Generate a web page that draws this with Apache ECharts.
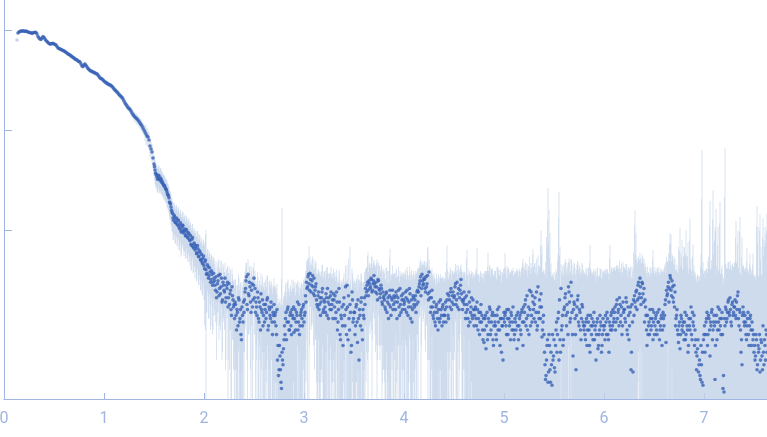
<!DOCTYPE html>
<html>
<head>
<meta charset="utf-8">
<script src="https://cdn.jsdelivr.net/npm/echarts@6/dist/echarts.min.js"></script>
<style>
html,body{margin:0;padding:0;background:#fff;}
#chart{width:767px;height:437px;}
</style>
</head>
<body>
<div id="chart"></div>
<script>
// ---- frame A: scattering vector s (nm^-1), integer-hundredth grid ----
const qValues = [
0.14,0.15,0.16,0.17,0.18,0.19,
0.20,0.21,0.22,0.23,0.24,0.25,0.26,0.27,0.28,0.29,
0.30,0.31,0.32,0.33,0.34,0.35,0.36,0.37,0.38,0.39,
0.40,0.41,0.42,0.43,0.44,0.45,0.46,0.47,0.48,0.49,
0.50,0.51,0.52,0.53,0.54,0.55,0.56,0.57,0.58,0.59,
0.60,0.61,0.62,0.63,0.64,0.65,0.66,0.67,0.68,0.69,
0.70,0.71,0.72,0.73,0.74,0.75,0.76,0.77,0.78,0.79,
0.80,0.81,0.82,0.83,0.84,0.85,0.86,0.87,0.88,0.89,
0.90,0.91,0.92,0.93,0.94,0.95,0.96,0.97,0.98,0.99,
1.00,1.01,1.02,1.03,1.04,1.05,1.06,1.07,1.08,1.09,
1.10,1.11,1.12,1.13,1.14,1.15,1.16,1.17,1.18,1.19,
1.20,1.21,1.22,1.23,1.24,1.25,1.26,1.27,1.28,1.29,
1.30,1.31,1.32,1.33,1.34,1.35,1.36,1.37,1.38,1.39,
1.40,1.41,1.42,1.43,1.44,1.45,1.46,1.47,1.48,1.49,
1.50,1.51,1.52,1.53,1.54,1.55,1.56,1.57,1.58,1.59,
1.60,1.61,1.62,1.63,1.64,1.65,1.66,1.67,1.68,1.69,
1.70,1.71,1.72,1.73,1.74,1.75,1.76,1.77,1.78,1.79,
1.80,1.81,1.82,1.83,1.84,1.85,1.86,1.87,1.88,1.89,
1.90,1.91,1.92,1.93,1.94,1.95,1.96,1.97,1.98,1.99,
2.00,2.01,2.02,2.03,2.04,2.05,2.06,2.07,2.08,2.09,
2.10,
2.11,2.12,2.13,2.14,2.15,2.16,2.17,2.18,2.19,2.20,
2.21,2.22,2.23,2.24,2.25,2.26,2.27,2.28,2.29,2.30,
2.31,2.32,2.33,2.34,2.35,2.36,2.37,2.38,2.39,2.40,
2.41,2.42,2.43,2.44,2.45,2.46,2.47,2.48,2.49,2.50,
2.51,2.52,2.53,2.54,2.55,2.56,2.57,2.58,2.59,2.60,
2.61,2.62,2.63,2.64,2.65,2.66,2.67,2.68,2.69,2.70,
2.71,2.72,2.73,2.74,2.75,2.76,2.77,2.78,2.79,2.80,
2.81,2.82,2.83,2.84,2.85,2.86,2.87,2.88,2.89,2.90,
2.91,2.92,2.93,2.94,2.95,2.96,2.97,2.98,2.99,3.00,
3.01,3.02,3.03,3.04,3.05,3.06,3.07,3.08,3.09,3.10,
3.11,3.12,3.13,3.14,3.15,3.16,3.17,3.18,3.19,3.20,
3.21,3.22,3.23,3.24,3.25,3.26,3.27,3.28,3.29,3.30,
3.31,3.32,3.33,3.34,3.35,3.36,3.37,3.38,3.39,3.40,
3.41,3.42,3.43,3.44,3.45,3.46,3.47,3.48,3.49,3.50,
3.51,3.52,3.53,3.54,3.55,3.56,3.57,3.58,3.59,3.60,
3.61,3.62,3.63,3.64,3.65,3.66,3.67,3.68,3.69,3.70,
3.71,3.72,3.73,3.74,3.75,3.76,3.77,3.78,3.79,3.80,
3.81,3.82,3.83,3.84,3.85,3.86,3.87,3.88,3.89,3.90,
3.91,3.92,3.93,3.94,3.95,3.96,3.97,3.98,3.99,4.00,
4.01,4.02,4.03,4.04,4.05,4.06,4.07,4.08,4.09,4.10,
4.11,4.12,4.13,4.14,4.15,4.16,4.17,4.18,4.19,4.20,
4.21,4.22,4.23,4.24,4.25,4.26,4.27,4.28,4.29,4.30,
4.31,4.32,4.33,4.34,4.35,4.36,4.37,4.38,4.39,4.40,
4.41,4.42,4.43,4.44,4.45,4.46,4.47,4.48,4.49,4.50,
4.51,4.52,4.53,4.54,4.55,4.56,4.57,4.58,4.59,4.60,
4.61,4.62,4.63,4.64,4.65,4.66,4.67,4.68,4.69,4.70,
4.71,4.72,4.73,4.74,4.75,4.76,4.77,4.78,4.79,4.80,
4.81,4.82,4.83,4.84,4.85,4.86,4.87,4.88,4.89,4.90,
4.91,4.92,4.93,4.94,4.95,4.96,4.97,4.98,4.99,5.00,
5.01,5.02,5.03,5.04,5.05,5.06,5.07,5.08,5.09,5.10,
5.11,5.12,5.13,5.14,5.15,5.16,5.17,5.18,5.19,5.20,
5.21,5.22,5.23,5.24,5.25,5.26,5.27,5.28,5.29,5.30,
5.31,5.32,5.33,5.34,5.35,5.36,5.37,5.38,5.39,5.40,
5.41,5.42,5.43,5.44,5.45,5.46,5.47,5.48,5.49,5.50,
5.51,5.52,5.53,5.54,5.55,5.56,5.57,5.58,5.59,5.60,
5.61,5.62,5.63,5.64,5.65,5.66,5.67,5.68,5.69,5.70,
5.71,5.72,5.73,5.74,5.75,5.76,5.77,5.78,5.79,5.80,
5.81,5.82,5.83,5.84,5.85,5.86,5.87,5.88,5.89,5.90,
5.91,5.92,5.93,5.94,5.95,5.96,5.97,5.98,5.99,6.00,
6.01,6.02,6.03,6.04,6.05,6.06,6.07,6.08,6.09,6.10,
6.11,6.12,6.13,6.14,6.15,6.16,6.17,6.18,6.19,6.20,
6.21,6.22,6.23,6.24,6.25,6.26,6.27,6.28,6.29,6.30,
6.31,6.32,6.33,6.34,6.35,6.36,6.37,6.38,6.39,6.40,
6.41,6.42,6.43,6.44,6.45,6.46,6.47,6.48,6.49,6.50,
6.51,6.52,6.53,6.54,6.55,6.56,6.57,6.58,6.59,6.60,
6.61,6.62,6.63,6.64,6.65,6.66,6.67,6.68,6.69,6.70,
6.71,6.72,6.73,6.74,6.75,6.76,6.77,6.78,6.79,6.80,
6.81,6.82,6.83,6.84,6.85,6.86,6.87,6.88,6.89,6.90,
6.91,6.92,6.93,6.94,6.95,6.96,6.97,6.98,6.99,7.00,
7.01,7.02,7.03,7.04,7.05,7.06,7.07,7.08,7.09,7.10,
7.11,7.12,7.13,7.14,7.15,7.16,7.17,7.18,7.19,7.20,
7.21,7.22,7.23,7.24,7.25,7.26,7.27,7.28,7.29,7.30,
7.31,7.32,7.33,7.34,7.35,7.36,7.37,7.38,7.39,7.40,
7.41,7.42,7.43,7.44,7.45,7.46,7.47,7.48,7.49,7.50,
7.51,7.52,7.53,7.54,7.55,7.56,7.57,7.58,7.59,7.60,
7.61,7.62,7.63
];

// intensity I(s), arbitrary units (frame A)
const intensity = [
9333,9550,9661,9772,9772,9772,
9772,9661,9772,9661,9550,9441,9441,9333,9268,9333,
9441,9484,9441,9120,8610,8318,8128,8035,8318,8610,
8414,8128,7853,7674,7499,7328,7244,7244,7328,7362,
7244,7161,7079,6839,6607,6531,6457,6383,6310,6237,
6166,6095,5957,5888,5754,5689,5623,5495,5433,5309,
5248,5129,5070,5012,4898,4842,4786,4571,4365,4315,
4467,4571,4416,4266,4121,4027,3936,3890,3846,3802,
3758,3715,3673,3631,3548,3428,3311,3273,3236,3162,
3090,3020,2985,2924,2884,2851,2818,2786,2723,2661,
2570,2512,2455,2399,2344,2265,2213,2163,2113,2042,
1950,1862,1799,1738,1679,1641,1603,1549,1479,1429,
1380,1349,1318,1288,1259,1216,1175,1135,1096,1047,
1000,955,912,871,851,794,692,646,603,525,
457,398,363,339,331,347,316,324,309,288,
275,269,257,240,224,209,186,170,151,132,
141,120,129,115,123,107,112,98,105,110,
93,102,89,96,83,91,78,72,81,68,
74,63,69,59,65,55,60,51,48,52,
44,48,40,37,43,35,38,32,36,30,
33,
28,34,24,31,22,36,27,19,30,25,
33,21,26,17,29,23,16,27,20,18,
19,14,16,11,20,13,9,17,12,15,
24,31,18,36,22,27,15,29,20,33,
26,19,14,21,12,17,23,15,11,18,
16,13,20,10,17,14,19,12,15,18,
14,11,16,7,4,5.5,3,6,4.5,8,
9,15,12,17,10,14,11,16,13,9.5,
16,12,14,10,18,11,15,13,17,12,
15,19,26,34,29,37,24,31,27,33,
25,29,18,22,16,21,19,24,15,20,
17,23,14,19,21,16,24,18,13,20,
22,15,19,12,26,9,14,17,7,21,
11,16,28,8,13,18,6,24,12,15,
9,17,12,20,5,14,19,10,16,13,
18,22,28,25,31,26,33,24,29,35,
27,30,23,32,26,21,28,19,24,22,
17,23,15,21,18,25,14,20,16,22,
19,24,13,21,17,26,15,20,23,18,
16,21,25,14,19,23,17,12,22,18,
20,15,24,19,27,31,22,36,28,33,
26,34,29,23,38,21,17,25,14,19,
12,17,15,10,19,13,16,11,18,14,
16,12,20,14,22,17,26,19,24,21,
27,18,30,23,16,25,32,20,19,24,
21,15,18,13,24,12,17,14,20,11,
16,13,19,10,15,12,18,14,8,7.5,
13,6.5,15,9,12,16,10,14,8,11,
12,9,14,10,17,7,13,11,5,15,
14,11,16,9,13,12,15,10,17,8,
13,10,6.5,15,11,14,9,16,7,12,
18,11,22,14,9,16,24,12,19,13,
21,15,10,27,13,17,23,8.5,12,9,
4.5,3.5,7,3,9,4,6,2.8,5,8,
3.8,10,6,13,5,8,26,11,7,16,
21,14,18,9,24,12,30,15,5.5,19,
13,4,17,22,11,15,8,18,12,10,
9,12,7,14,10,6,11,13,8,15,
10,5,12,6.5,9,14,11,7,13,10,
8,12,15,9,6,11,14,10,16,13,
17,12,20,15,11,18,14,9,19,16,
13,21,10,17,8,15,4,18,3.8,14,
19,24,16,28,21,33,18,30,23,26,
20,14,7,9,12,16,10,13,8,15,
11,14,9,12,16,10,13,7,15,11,
18,7.5,22,27,19,35,25,31,21,28,
24,13,16,9,11,6.5,14,10,12,8,
15,9,11,6,13,10,17,8,12,14,
10,6,5.5,8,4.5,3.5,7,3,2.8,9,
6,12,15,9,13,5.5,11,16,10,14,
3.2,12,8,17,10,13,9,15,2.6,2.4,
11,16,13,19,15,21,12,18,14,17,
20,13,16,24,11,15,6,4.5,17,12,
14,9,11,15,7,13,10,12,8,6,
5,9,4,7,6.5,3.8,8,5.5,11,4.5,
7,10,6
];

// standard error of I(s) (frame A)
const errors = [
150,140,130,150,140,160,
150,140,150,160,150,140,160,150,170,160,
150,160,170,180,170,180,190,170,180,190,
200,180,190,200,190,210,200,190,210,200,
220,230,220,210,240,220,230,210,240,230,
220,240,230,220,250,230,240,220,250,240,
230,250,240,230,260,240,250,230,260,250,
240,250,230,240,220,230,210,220,200,210,
190,200,190,180,190,170,180,160,170,150,
160,150,160,145,170,155,150,165,140,160,
150,145,155,140,150,135,150,140,145,150,
140,145,135,140,130,145,135,125,140,130,
140,160,150,165,140,155,145,150,130,140,
125,180,200,170,190,160,150,140,130,120,
110,110,100,95,90,95,85,90,80,78,
75,74,72,70,66,62,60,58,55,52,
50,48,46,47,44,45,42,44,40,42,
38,40,37,38,35,37,34,33,32,31,
30,30,29,28,29,27,28,26,25,26,
24,28,60,22,21,22,20,21,19,20,
19,
14,15,13,16,14,13,15,14,16,13,
14,16,13,15,14,13,15,14,12,14,
13,14,12,14,13,15,12,13,14,13,
14,16,13,15,13,17,13,14,15,14,
13,12,14,13,15,12,14,13,15,12,
14,13,15,12,13,14,12,14,13,15,
14,15,13,14,13,15,14,160,13,14,
13,15,12,15,14,12,14,16,13,15,
14,12,15,13,12,15,13,16,12,14,
19,16,18,15,40,17,14,19,16,18,
17,20,16,19,22,18,15,21,17,19,
20,17,22,18,16,21,19,15,20,17,
16,19,15,18,14,20,17,15,19,16,
18,15,17,20,16,50,19,17,21,15,
17,14,19,16,22,15,18,20,14,17,
16,19,15,35,14,17,13,30,16,15,
18,14,28,13,19,16,15,20,17,18,
16,19,15,18,21,40,17,16,20,15,
18,15,20,14,17,13,19,16,15,18,
17,14,18,21,16,15,19,22,14,17,
16,19,15,18,14,17,20,13,16,15,
18,14,17,45,13,20,22,16,21,18,
19,16,18,21,15,20,17,22,16,19,
17,20,50,19,16,18,14,17,15,16,
14,18,15,17,20,16,13,18,19,15,
17,20,45,22,16,21,19,23,18,22,
20,23,48,24,21,22,19,23,25,22,
26,29,24,50,25,27,30,26,28,25,
27,24,29,26,23,28,25,27,30,24,
45,25,28,24,27,26,23,29,25,27,
26,28,30,24,27,25,29,26,45,24,
27,29,24,28,30,26,23,27,45,25,
26,28,24,29,27,25,76,62,26,28,
35,30,60,258,150,90,40,32,28,30,
28,30,27,45,235,60,20,29,27,30,
27,25,29,26,28,24,22,30,26,28,
29,26,28,25,30,27,26,29,24,28,
27,30,26,28,26,65,29,25,28,26,
28,25,29,27,26,28,30,26,27,29,
27,29,26,28,25,60,27,29,26,28,
26,28,25,29,27,24,28,26,29,27,
28,25,29,26,30,27,28,25,29,27,
139,70,28,25,29,26,28,24,27,26,
27,29,26,28,25,27,25,29,55,28,
26,28,25,29,27,26,28,30,26,27,
27,29,26,20,30,58,65,27,29,26,
28,26,29,27,30,100,45,70,28,60,
40,90,30,70,28,120,35,27,60,30,
28,26,29,27,30,28,50,628,45,30,
27,29,26,40,28,189,30,27,240,60,
104,150,28,90,30,180,27,29,26,28,
650,30,27,29,26,28,30,27,29,26,
28,110,30,75,27,120,29,80,28,30,
27,29,55,26,28,45,30,27,50,28,
29,27,170,100,28,140,60,30,120,75,
100,80,140
];

// ---- frame B: half-step grid (s = x.xx5), from 1.505 ----
const qValuesB = [
1.505,1.515,1.525,1.535,1.545,1.555,1.565,1.575,1.585,1.595,
1.605,1.615,1.625,1.635,1.645,1.655,1.665,1.675,1.685,1.695,
1.705,1.715,1.725,1.735,1.745,1.755,1.765,1.775,1.785,1.795,
1.805,1.815,1.825,1.835,1.845,1.855,1.865,1.875,1.885,1.895,
1.905,1.915,1.925,1.935,1.945,1.955,1.965,1.975,1.985,1.995,
2.005,2.015,2.025,2.035,2.045,2.055,2.065,2.075,2.085,2.095,
2.105,2.115,2.125,2.135,2.145,2.155,2.165,2.175,2.185,2.195,
2.205,2.215,2.225,2.235,2.245,2.255,2.265,2.275,2.285,2.295,
2.305,2.315,2.325,2.335,2.345,2.355,2.365,2.375,2.385,2.395,
2.405,2.415,2.425,2.435,2.445,2.455,2.465,2.475,2.485,2.495,
2.505,2.515,2.525,2.535,2.545,2.555,2.565,2.575,2.585,2.595,
2.605,2.615,2.625,2.635,2.645,2.655,2.665,2.675,2.685,2.695,
2.705,2.715,2.725,2.735,2.745,2.755,2.765,2.775,2.785,2.795,
2.805,2.815,2.825,2.835,2.845,2.855,2.865,2.875,2.885,2.895,
2.905,2.915,2.925,2.935,2.945,2.955,2.965,2.975,2.985,2.995,
3.005,3.015,3.025,3.035,3.045,3.055,3.065,3.075,3.085,3.095,
3.105,3.115,3.125,3.135,3.145,3.155,3.165,3.175,3.185,3.195,
3.205,3.215,3.225,3.235,3.245,3.255,3.265,3.275,3.285,3.295,
3.305,3.315,3.325,3.335,3.345,3.355,3.365,3.375,3.385,3.395,
3.405,3.415,3.425,3.435,3.445,3.455,3.465,3.475,3.485,3.495,
3.505,3.515,3.525,3.535,3.545,3.555,3.565,3.575,3.585,3.595,
3.605,3.615,3.625,3.635,3.645,3.655,3.665,3.675,3.685,3.695,
3.705,3.715,3.725,3.735,3.745,3.755,3.765,3.775,3.785,3.795,
3.805,3.815,3.825,3.835,3.845,3.855,3.865,3.875,3.885,3.895,
3.905,3.915,3.925,3.935,3.945,3.955,3.965,3.975,3.985,3.995,
4.005,4.015,4.025,4.035,4.045,4.055,4.065,4.075,4.085,4.095,
4.105,4.115,4.125,4.135,4.145,4.155,4.165,4.175,4.185,4.195,
4.205,4.215,4.225,4.235,4.245,4.255,4.265,4.275,4.285,4.295,
4.305,4.315,4.325,4.335,4.345,4.355,4.365,4.375,4.385,4.395,
4.405,4.415,4.425,4.435,4.445,4.455,4.465,4.475,4.485,4.495,
4.505,4.515,4.525,4.535,4.545,4.555,4.565,4.575,4.585,4.595,
4.605,4.615,4.625,4.635,4.645,4.655,4.665,4.675,4.685,4.695,
4.705,4.715,4.725,4.735,4.745,4.755,4.765,4.775,4.785,4.795,
4.805,4.815,4.825,4.835,4.845,4.855,4.865,4.875,4.885,4.895,
4.905,4.915,4.925,4.935,4.945,4.955,4.965,4.975,4.985,4.995,
5.005,5.015,5.025,5.035,5.045,5.055,5.065,5.075,5.085,5.095,
5.105,5.115,5.125,5.135,5.145,5.155,5.165,5.175,5.185,5.195,
5.205,5.215,5.225,5.235,5.245,5.255,5.265,5.275,5.285,5.295,
5.305,5.315,5.325,5.335,5.345,5.355,5.365,5.375,5.385,5.395,
5.405,5.415,5.425,5.435,5.445,5.455,5.465,5.475,5.485,5.495,
5.505,5.515,5.525,5.535,5.545,5.555,5.565,5.575,5.585,5.595,
5.605,5.615,5.625,5.635,5.645,5.655,5.665,5.675,5.685,5.695,
5.705,5.715,5.725,5.735,5.745,5.755,5.765,5.775,5.785,5.795,
5.805,5.815,5.825,5.835,5.845,5.855,5.865,5.875,5.885,5.895,
5.905,5.915,5.925,5.935,5.945,5.955,5.965,5.975,5.985,5.995,
6.005,6.015,6.025,6.035,6.045,6.055,6.065,6.075,6.085,6.095,
6.105,6.115,6.125,6.135,6.145,6.155,6.165,6.175,6.185,6.195,
6.205,6.215,6.225,6.235,6.245,6.255,6.265,6.275,6.285,6.295,
6.305,6.315,6.325,6.335,6.345,6.355,6.365,6.375,6.385,6.395,
6.405,6.415,6.425,6.435,6.445,6.455,6.465,6.475,6.485,6.495,
6.505,6.515,6.525,6.535,6.545,6.555,6.565,6.575,6.585,6.595,
6.605,6.615,6.625,6.635,6.645,6.655,6.665,6.675,6.685,6.695,
6.705,6.715,6.725,6.735,6.745,6.755,6.765,6.775,6.785,6.795,
6.805,6.815,6.825,6.835,6.845,6.855,6.865,6.875,6.885,6.895,
6.905,6.915,6.925,6.935,6.945,6.955,6.965,6.975,6.985,6.995,
7.005,7.015,7.025,7.035,7.045,7.055,7.065,7.075,7.085,7.095,
7.105,7.115,7.125,7.135,7.145,7.155,7.165,7.175,7.185,7.195,
7.205,7.215,7.225,7.235,7.245,7.255,7.265,7.275,7.285,7.295,
7.305,7.315,7.325,7.335,7.345,7.355,7.365,7.375,7.385,7.395,
7.405,7.415,7.425,7.435,7.445,7.455,7.465,7.475,7.485,7.495,
7.505,7.515,7.525,7.535,7.545,7.555,7.565,7.575,7.585,7.595,
7.605,7.615,7.625
];

const intensityB = [
430,372,355,322,352,318,330,301,296,283,
279,258,251,229,219,190,182,158,146,125,
136,118,132,112,126,103,118,95,112,98,
99,87,101,85,94,80,88,70,84,66,
72,66,58,70,54,62,50,57,46,55,
41,50,36,45,33,42,30,39,28,37,
31,25,21,29,35,26,23,33,20,28,
24,19,28,30,21,18,25,14,22,17,
13,18,10,15,21,12,16,8,14,19,
20,26,34,16,23,30,19,25,17,28,
21,15,17,24,13,19,10,16,20,14,
12,18,15,21,11,16,13,17,9,14,
12,15,9,5,3.5,7,4,2.6,5,6.5,
11,13,8,16,12,10,15,9,14,17,
13,10,15,19,12,9,14,16,11,18,
14,22,30,27,36,25,32,28,35,23,
22,27,20,17,24,18,14,21,26,16,
19,15,21,26,13,18,22,16,20,23,
17,13,24,10,16,19,8,13,11,18,
14,27,9,17,22,10,15,7,20,13,
15,11,18,7.5,13,16,11,21,8,14,
21,26,24,30,22,29,27,32,25,31,
29,24,27,20,31,25,23,26,18,21,
20,16,24,19,13,22,17,21,25,18,
21,16,22,19,25,14,18,22,16,20,
19,24,15,20,17,26,13,20,16,21,
17,22,18,25,24,29,34,26,31,29,
32,24,27,35,20,24,15,21,17,13,
15,11,18,13,16,12,20,14,17,12,
14,19,17,23,13,20,24,16,22,18,
22,29,20,17,26,21,28,23,16,20,
18,13,22,16,11,19,15,21,13,16,
14,17,11,16,13,9,15,12,10,13,
10,14,11,8,13,17,9,12,15,7,
14,11,8,16,12,10,13,6,11,13,
12,15,9,13,16,11,8,14,12,10,
9,12,14,11,8,13,10,15,12,17,
15,20,13,10,17,25,11,14,22,16,
18,12,24,11,15,20,13,17,10,14,
6,3.2,5,8,3.8,7,3,4.5,9,5.5,
4.2,7,12,9,15,20,6,10,14,8,
17,23,11,15,27,19,13,22,9,16,
18,9,14,20,12,16,10,13,17,11,
11,8,13,10,12,7,14,9,11,12,
8,11,9,13,7,10,12,6,9,11,
11,14,9,13,8,12,10,15,11,12,
15,10,18,13,16,21,12,17,11,15,
16,12,19,9,14,11,17,6,12,20,
22,17,25,20,30,23,27,21,29,19,
12,17,10,14,11,9,13,11,16,12,
9,13,10,15,12,8,11,14,10,13,
14,20,25,23,30,26,33,22,27,19,
17,11,14,10,7.5,12,9,13,11,9.5,
12,8,14,10,7,11,13,9,15,11,
7,8,4,6.5,3.8,5,3.2,4.5,6,8,
11,9,13,7,14,10,12,15,8,12,
11,7,14,10,12,16,11,13,9,3.5,
13,17,12,15,20,14,16,11,19,15,
17,14,19,22,13,16,10,8,14,15,
11,12,8,13,9,11,14,7,10,9,
7,5.5,8,4.5,6,9,5,7.5,4,6,
8,5,9
];

const errorsB = [
105,95,90,88,90,85,86,78,76,73,
72,68,66,62,60,56,54,50,48,46,
47,44,46,42,44,40,42,38,40,36,
38,35,36,34,35,32,33,30,31,28,
29,28,27,28,26,27,25,26,24,25,
30,40,21,20,20,19,20,18,19,17,
15,13,16,14,16,15,13,16,14,15,
14,15,13,14,16,14,15,13,14,13,
13,14,12,13,15,13,14,12,13,13,
14,15,13,16,14,13,15,14,16,13,
12,14,12,14,13,12,15,12,14,13,
13,14,12,14,12,15,13,12,14,13,
14,12,14,13,15,12,14,30,13,14,
13,15,12,14,14,12,13,15,12,14,
14,12,14,12,15,13,12,14,12,14,
18,17,19,25,16,18,15,17,19,16,
18,19,17,20,16,18,21,17,19,18,
19,16,21,17,20,18,15,19,17,18,
17,18,16,19,15,18,16,17,18,15,
16,17,19,15,30,18,16,19,17,16,
16,18,15,17,19,16,20,15,18,16,
17,15,18,25,16,18,15,22,17,16,
16,18,20,15,17,18,16,19,15,17,
17,15,18,20,16,30,18,15,19,17,
16,17,19,15,18,16,17,15,18,16,
18,16,17,19,15,17,18,20,16,18,
15,17,19,16,18,15,17,19,15,16,
17,18,16,30,15,19,20,17,18,19,
18,17,19,16,20,18,16,19,17,18,
18,19,30,17,19,16,18,16,17,18,
16,17,19,16,18,17,15,17,18,16,
19,18,30,20,17,19,21,18,20,19,
21,22,30,20,23,21,24,22,23,24,
27,25,28,35,26,28,25,29,26,27,
25,28,24,27,29,25,27,24,26,28,
30,27,24,28,26,25,28,26,27,25,
28,25,27,29,26,28,24,27,35,26,
25,28,26,24,27,29,25,28,35,27,
28,25,27,26,29,24,55,40,28,26,
30,45,80,120,70,45,35,30,27,29,
27,29,26,40,120,35,22,27,30,28,
26,28,25,27,20,29,26,28,27,25,
28,27,26,29,25,28,27,26,28,29,
26,28,27,25,30,40,27,28,26,27,
27,28,26,29,27,25,28,27,29,26,
28,26,28,27,29,40,26,28,27,29,
27,29,26,28,25,28,26,29,27,28,
26,28,27,25,28,29,26,28,27,40,
90,40,26,28,24,27,25,26,28,27,
28,26,27,29,27,25,28,26,35,27,
27,26,28,27,26,28,27,26,28,26,
28,27,29,26,28,45,40,26,28,27,
27,29,26,28,60,50,35,40,30,45,
55,50,40,45,30,70,28,30,40,28,
27,28,26,30,27,29,40,200,35,28,
28,30,27,30,40,100,28,35,120,45,
70,90,30,60,28,100,26,28,27,30,
200,28,29,27,28,26,29,28,27,28,
30,70,28,50,29,80,27,45,28,29,
28,30,40,27,29,35,28,29,35,27,
28,26,100,70,29,90,45,28,80,50,
60,70,90
];

// excluded (greyed) first point
const excludedQ = [0.13];
const excludedI = [7943];

const xTickValues = [0, 1, 2, 3, 4, 5, 6, 7];
const yTickValues = [100, 1000, 10000];

const Y_MIN = Math.pow(10, 0.31);
const Y_MAX = Math.pow(10, 4.3);

function toPoints(qs, is) { return qs.map((q, i) => [q, is[i]]); }
function toBars(qs, is, es) {
  return qs.map((q, i) => [q, Math.max(is[i] - es[i], Y_MIN), is[i] + es[i]]);
}
const pointData = toPoints(qValues, intensity).concat(toPoints(qValuesB, intensityB));
const errData = toBars(qValues, intensity, errors).concat(toBars(qValuesB, intensityB, errorsB));
const excludedData = toPoints(excludedQ, excludedI);

const chart = echarts.init(document.getElementById('chart'), null, {renderer: 'canvas'});
const axisColor = '#a0b5e1';

chart.setOption({
  animation: false,
  grid: {left: 4, right: 0, top: 0, bottom: 38, containLabel: false, outerBoundsMode: 'none'},
  xAxis: {
    type: 'value', min: 0, max: 7.63, interval: 1,
    axisLine: {show: true, onZero: false, lineStyle: {color: axisColor, width: 1}},
    axisTick: {show: true, inside: true, length: 6, lineStyle: {color: axisColor}, customValues: xTickValues},
    axisLabel: {color: axisColor, fontSize: 16, fontFamily: 'Roboto, sans-serif', margin: 12,
      customValues: xTickValues, alignMinLabel: 'center', alignMaxLabel: 'center',
      formatter: v => String(v)},
    splitLine: {show: false}
  },
  yAxis: {
    type: 'log', logBase: 10, min: Y_MIN, max: Y_MAX,
    axisLine: {show: true, lineStyle: {color: axisColor, width: 1}},
    axisTick: {show: true, inside: true, length: 8, lineStyle: {color: axisColor}, customValues: yTickValues},
    axisLabel: {show: false},
    splitLine: {show: false}
  },
  series: [
    {
      type: 'custom',
      clip: true,
      data: errData,
      encode: {x: 0, y: [1, 2]},
      renderItem: function (params, api) {
        const q = api.value(0);
        const top = api.coord([q, api.value(2)]);
        const bot = api.coord([q, api.value(1)]);
        return {
          type: 'rect',
          shape: {x: top[0] - 0.5, y: top[1], width: 1, height: bot[1] - top[1]},
          style: {fill: 'rgba(195,210,234,0.6)'}
        };
      },
      z: 1
    },
    {
      type: 'scatter',
      data: pointData,
      symbol: 'circle',
      symbolSize: 3.6,
      itemStyle: {color: '#3a63b6'},
      z: 3
    },
    {
      type: 'scatter',
      data: excludedData,
      symbol: 'circle',
      symbolSize: 3.6,
      itemStyle: {color: '#b9c9e8'},
      z: 3
    }
  ]
});
</script>
</body>
</html>
